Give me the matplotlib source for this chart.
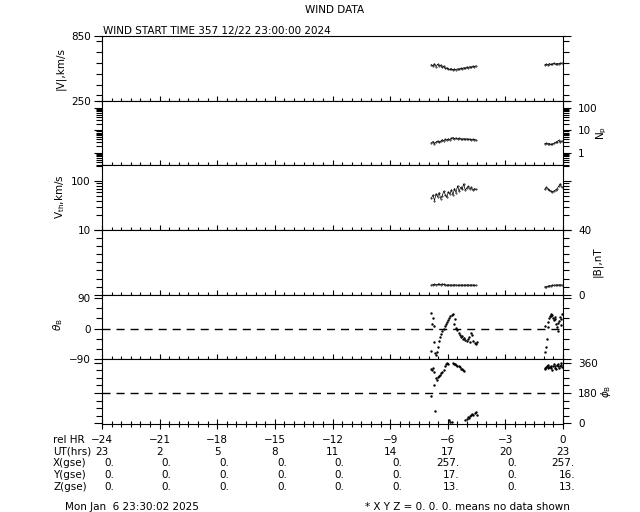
import matplotlib
matplotlib.use("Agg")
import matplotlib.pyplot as plt
import matplotlib.transforms as mtransforms
from matplotlib.ticker import MultipleLocator, LogLocator, NullFormatter

# time axis: hours relative to end of interval
t1 = [-6.85, -6.77, -6.69, -6.61, -6.53, -6.45, -6.37, -6.29, -6.21, -6.13,
      -6.05, -5.97, -5.89, -5.81, -5.73, -5.65, -5.57, -5.49, -5.41, -5.33,
      -5.25, -5.17, -5.09, -5.01, -4.93, -4.85, -4.77, -4.69, -4.61, -4.53]
t2 = [-0.95, -0.87, -0.79, -0.71, -0.63, -0.55, -0.47, -0.39, -0.31, -0.23, -0.15, -0.07]

v1 = [585, 570, 592, 566, 588, 572, 580, 558, 570, 550, 554, 544, 540, 546, 536,
      542, 538, 546, 540, 550, 545, 556, 550, 562, 556, 566, 560, 570, 566, 574]
v2 = [582, 590, 580, 594, 586, 590, 598, 588, 594, 592, 596, 598]

np1 = [2.8, 3.2, 2.6, 3.0, 3.4, 2.9, 3.3, 3.8, 3.5, 4.0, 3.7, 4.2, 3.9, 4.4, 4.8,
       4.3, 4.6, 4.1, 4.5, 4.2, 4.0, 4.3, 4.1, 4.2, 4.0, 4.1, 3.9, 4.0, 3.9, 3.8]
np2 = [2.6, 2.7, 2.5, 2.6, 2.4, 2.5, 2.7, 2.9, 3.2, 3.6, 3.0, 3.4]

vth1 = [45, 52, 40, 55, 48, 58, 44, 50, 62, 53, 47, 60, 55, 66, 52,
        70, 58, 80, 62, 74, 68, 88, 66, 72, 78, 70, 74, 66, 70, 68]
vth2 = [68, 74, 70, 65, 62, 60, 63, 66, 70, 78, 88, 76]

b1 = [6.0, 6.2, 6.3, 6.1, 6.4, 6.5, 6.2, 6.6, 6.3, 6.0, 5.9, 6.1, 6.0, 5.9, 6.0,
      6.1, 6.0, 5.9, 5.9, 6.0, 6.0, 5.9, 6.0, 6.0, 6.0, 5.9, 6.0, 6.0, 5.8, 5.9]
b2 = [4.8, 5.0, 5.2, 5.6, 5.4, 5.9, 5.8, 6.0, 5.9, 6.1, 6.0, 6.0]

ta = [-6.87, -6.85, -6.80, -6.78, -6.74, -6.70, -6.66, -6.62, -6.58, -6.52, -6.46,
      -6.40, -6.34, -6.28, -6.22, -6.16, -6.10, -6.04, -5.98, -5.92, -5.86, -5.80,
      -5.74, -5.68, -5.62, -5.56, -5.50, -5.44, -5.38, -5.32, -5.26, -5.20, -5.14,
      -5.08, -5.02, -4.96, -4.90, -4.84, -4.78, -4.72, -4.66, -4.60, -4.54, -4.48]
theta1 = [-65, 45, 12, 30, 8, -40, -72, -78, -68, -55, -35, -25, -17, -8, 0, 6, 14,
          20, 26, 30, 36, 40, 42, 12, 28, 2, -5, -12, -20, -26, -22, -30, -28, -33,
          -35, -30, -25, -38, -12, -18, -35, -42, -45, -38]
phi1 = [160, 322, 318, 330, 305, 228, 72, 268, 255, 274, 280, 288, 296, 305, 318,
        340, 355, 358, 352, 18, 10, 5, 356, 350, 352, 345, 338, 342, 332, 325, 320,
        315, 312, 20, 25, 35, 30, 42, 48, 55, 50, 62, 70, 52]

tb = [-0.95, -0.92, -0.88, -0.84, -0.80, -0.76, -0.72, -0.68, -0.64, -0.60, -0.56,
      -0.52, -0.48, -0.44, -0.40, -0.36, -0.32, -0.28, -0.24, -0.20, -0.16, -0.12,
      -0.08, -0.04]
theta2 = [8, -70, -55, -30, 5, 20, 32, 38, 42, 36, 40, 30, 25, 35, 28, 12, 5, -8,
          15, 22, 35, 10, 28, 42]
phi2 = [330, 322, 335, 340, 328, 345, 336, 332, 340, 326, 318, 338, 350, 342, 330,
        325, 345, 352, 338, 330, 342, 348, 356, 335]

# orbit table
rel_hr = [-24, -21, -18, -15, -12, -9, -6, -3, 0]
ut_hrs = ['23', '2', '5', '8', '11', '14', '17', '20', '23']
x_gse = ['0.', '0.', '0.', '0.', '0.', '0.', '257.', '0.', '257.']
y_gse = ['0.', '0.', '0.', '0.', '0.', '0.', '17.', '0.', '16.']
z_gse = ['0.', '0.', '0.', '0.', '0.', '0.', '13.', '0.', '13.']

FS = 7.5
plt.rcParams['font.family'] = 'DejaVu Sans'
plt.rcParams['font.size'] = FS

fig, axes = plt.subplots(6, 1, sharex=True, figsize=(6.4, 5.12), dpi=100,
                         gridspec_kw={'hspace': 0})
fig.subplots_adjust(left=102/640, right=563/640, top=1-36/512, bottom=1-424/512)
ax_v, ax_n, ax_th, ax_b, ax_t, ax_p = axes

for ax in axes:
    for s in ax.spines.values():
        s.set_linewidth(0.8)
    ax.set_xlim(-24, 0)
    ax.xaxis.set_major_locator(MultipleLocator(3))
    ax.xaxis.set_minor_locator(MultipleLocator(0.5))
    ax.tick_params(axis='x', which='both', direction='inout', top=False,
                   bottom=True, labelbottom=False, width=0.8)
    ax.tick_params(axis='x', which='major', length=7)
    ax.tick_params(axis='x', which='minor', length=4)
    ax.tick_params(axis='y', which='both', direction='out', left=True, right=True,
                   width=0.8, labelsize=FS, pad=2)
    ax.tick_params(axis='y', which='major', length=6)
    ax.tick_params(axis='y', which='minor', length=4)

line_kw = dict(color='black', lw=0.5, marker='.', ms=0.8)
dot_kw = dict(color='black', lw=0, marker='s', ms=0.7)

# |V|
ax_v.plot(t1, v1, **line_kw)
ax_v.plot(t2, v2, **line_kw)
ax_v.set_ylim(250, 850)
ax_v.set_yticks([250, 850])
ax_v.yaxis.set_minor_locator(MultipleLocator(100))
ax_v.tick_params(axis='y', labelleft=True, labelright=False)

# Np
ax_n.plot(t1, np1, **line_kw)
ax_n.plot(t2, np2, **line_kw)
ax_n.set_yscale('log')
ax_n.set_ylim(0.28, 210)
ax_n.set_yticks([1, 10, 100], ['1', '10', '100'])
ax_n.yaxis.set_minor_locator(LogLocator(subs=range(2, 10)))
ax_n.yaxis.set_minor_formatter(NullFormatter())
ax_n.tick_params(axis='y', labelleft=False, labelright=True, pad=5)

# Vth
ax_th.plot(t1, vth1, **line_kw)
ax_th.plot(t2, vth2, **line_kw)
ax_th.set_yscale('log')
ax_th.set_ylim(10, 210)
ax_th.set_yticks([10, 100], ['10', '100'])
ax_th.yaxis.set_minor_locator(LogLocator(subs=range(2, 10)))
ax_th.yaxis.set_minor_formatter(NullFormatter())
ax_th.tick_params(axis='y', labelleft=True, labelright=False)

# |B|
ax_b.plot(t1, b1, **line_kw)
ax_b.plot(t2, b2, **line_kw)
ax_b.set_ylim(0, 40)
ax_b.set_yticks([0, 40])
ax_b.yaxis.set_minor_locator(MultipleLocator(5))
ax_b.tick_params(axis='y', labelleft=False, labelright=True, pad=5)

# theta B
ax_t.plot(ta, theta1, **dot_kw)
ax_t.plot(tb, theta2, **dot_kw)
ax_t.axhline(0, color='black', lw=1.0, dashes=(5.8, 4.3))
ax_t.set_ylim(-90, 99)
ax_t.set_yticks([-90, 0, 90], ['\u221290', '0', '90'])
ax_t.yaxis.set_minor_locator(MultipleLocator(30))
ax_t.tick_params(axis='y', labelleft=True, labelright=False)

# phi B
ax_p.plot(ta, phi1, **dot_kw)
ax_p.plot(tb, phi2, **dot_kw)
ax_p.axhline(180, color='black', lw=1.0, dashes=(5.8, 4.3))
ax_p.set_ylim(-4, 380)
ax_p.set_yticks([0, 180, 360])
ax_p.yaxis.set_minor_locator(MultipleLocator(45))
ax_p.tick_params(axis='y', labelleft=False, labelright=True, pad=5)

# axis labels
def px(x, y):
    return x / 640, 1 - y / 512

fig.text(*px(60, 68), '|V|,km/s', rotation=90, ha='center', va='center')
fig.text(*px(60, 197), r'V$_{\rm th}$,km/s', rotation=90, ha='center', va='center')
fig.text(*px(58, 325), r'$\theta_{\rm B}$', rotation=90, ha='center', va='center')
fig.text(*px(602, 133), r'N$_{\rm p}$', rotation=90, ha='center', va='center')
fig.text(*px(597, 262), '|B|,nT', rotation=90, ha='center', va='center')
fig.text(*px(606, 391), r'$\phi_{\rm B}$', rotation=90, ha='center', va='center')

fig.text(*px(335, 10), 'WIND DATA', ha='center', va='center')
ax_v.text(0.002, 1.0, 'WIND START TIME 357 12/22 23:00:00 2024',
          transform=ax_v.transAxes, ha='left', va='bottom')

# orbit table under the last panel
trans = mtransforms.blended_transform_factory(ax_p.transData, fig.transFigure)
shift = mtransforms.ScaledTranslation(0.12, 0, fig.dpi_scale_trans)
rows_y = [440, 452, 463.5, 475, 486.5]
names = ['rel HR', 'UT(hrs)', 'X(gse)', 'Y(gse)', 'Z(gse)']
for name, yy in zip(names, rows_y):
    fig.text(*px(53, yy), name, ha='left', va='center')
for i, h in enumerate(rel_hr):
    lab = str(h).replace('-', '\u2212')
    fig.text(h, px(0, rows_y[0])[1], lab, transform=trans, ha='center', va='center')
    fig.text(h, px(0, rows_y[1])[1], ut_hrs[i], transform=trans, ha='center', va='center')
    for vals, yy in zip([x_gse, y_gse, z_gse], rows_y[2:]):
        fig.text(h, px(0, yy)[1], vals[i], transform=trans + shift,
                 ha='right', va='center')

fig.text(*px(65, 507), 'Mon Jan  6 23:30:02 2025', ha='left', va='center')
fig.text(*px(365, 507), '* X Y Z = 0. 0. 0. means no data shown', ha='left', va='center')

fig.savefig('out.png', dpi=100)
